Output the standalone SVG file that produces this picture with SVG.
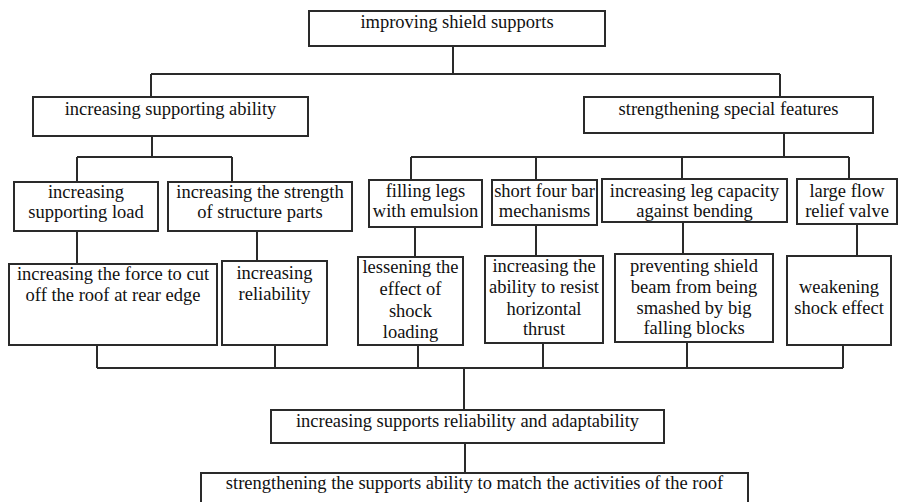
<svg xmlns="http://www.w3.org/2000/svg" width="901" height="502" viewBox="0 0 901 502">
  <style>
    .box { fill: #ffffff; stroke: #2a2a2a; stroke-width: 2; }
    .lbl { font-family: "Liberation Serif", "Times New Roman", serif; font-size: 18.5px; fill: #111111; text-anchor: middle; }
    .wire { fill: none; stroke: #2a2a2a; stroke-width: 2; }
  </style>
  <rect width="901" height="502" fill="#ffffff"/>

  <!-- connectors -->
  <g id="connectors" class="wire">
    <path d="M453,46 V74 M151,74 H780 M151,74 V97 M780,74 V97"/>
    <path d="M152,136 V157 M77,157 H232 M77,157 V182 M232,157 V182"/>
    <path d="M784,133 V157 M411,157 H849 M411,157 V180 M536,157 V180 M682,157 V179 M849,157 V179"/>
    <path d="M77,231 V264 M257,231 V261 M415,227 V257 M536,225 V256 M683,222 V254 M857,224 V256"/>
    <path d="M97,345 V368 M275,345 V368 M418,345 V368 M543,343 V368 M687,342 V368 M843,345 V368 M97,368 H843"/>
    <path d="M464,368 V410 M465,443 V473"/>
  </g>

  <!-- level 1 -->
  <g id="n-improving">
    <rect class="box" x="309" y="11" width="296" height="35"/>
    <text class="lbl" x="457" y="28">improving shield supports</text>
  </g>

  <!-- level 2 -->
  <g id="n-supporting-ability">
    <rect class="box" x="33" y="97" width="275" height="39"/>
    <text class="lbl" x="170.5" y="115">increasing supporting ability</text>
  </g>
  <g id="n-special-features">
    <rect class="box" x="584" y="97" width="289" height="36"/>
    <text class="lbl" x="728.5" y="115">strengthening special features</text>
  </g>

  <!-- level 3 -->
  <g id="n-supporting-load">
    <rect class="box" x="14" y="182" width="144" height="49"/>
    <text class="lbl" x="86" y="198">increasing</text>
    <text class="lbl" x="86" y="218">supporting load</text>
  </g>
  <g id="n-structure-strength">
    <rect class="box" x="168" y="182" width="184" height="49"/>
    <text class="lbl" x="260" y="198">increasing the strength</text>
    <text class="lbl" x="260" y="218">of structure parts</text>
  </g>
  <g id="n-emulsion">
    <rect class="box" x="369" y="180" width="113" height="47"/>
    <text class="lbl" x="425.5" y="197">filling legs</text>
    <text class="lbl" x="425.5" y="217">with emulsion</text>
  </g>
  <g id="n-four-bar">
    <rect class="box" x="492" y="180" width="105" height="45"/>
    <text class="lbl" x="544.5" y="197">short four bar</text>
    <text class="lbl" x="544.5" y="217">mechanisms</text>
  </g>
  <g id="n-leg-capacity">
    <rect class="box" x="602" y="179" width="185" height="43"/>
    <text class="lbl" x="694.5" y="197">increasing leg capacity</text>
    <text class="lbl" x="694.5" y="217">against bending</text>
  </g>
  <g id="n-relief-valve">
    <rect class="box" x="797" y="179" width="100" height="45"/>
    <text class="lbl" x="847" y="197">large flow</text>
    <text class="lbl" x="847" y="217">relief valve</text>
  </g>

  <!-- level 4 -->
  <g id="n-cut-roof">
    <rect class="box" x="9" y="264" width="208" height="81"/>
    <text class="lbl" x="113" y="280">increasing the force to cut</text>
    <text class="lbl" x="113" y="301">off the roof at rear edge</text>
  </g>
  <g id="n-reliability">
    <rect class="box" x="222" y="261" width="105" height="84"/>
    <text class="lbl" x="274.5" y="279">increasing</text>
    <text class="lbl" x="274.5" y="300">reliability</text>
  </g>
  <g id="n-shock-loading">
    <rect class="box" x="358" y="257" width="105" height="88"/>
    <text class="lbl" x="410.5" y="273">lessening the</text>
    <text class="lbl" x="410.5" y="295">effect of</text>
    <text class="lbl" x="410.5" y="317">shock</text>
    <text class="lbl" x="410.5" y="338">loading</text>
  </g>
  <g id="n-horizontal-thrust">
    <rect class="box" x="485" y="256" width="118" height="87"/>
    <text class="lbl" x="544" y="272">increasing the</text>
    <text class="lbl" x="544" y="293">ability to resist</text>
    <text class="lbl" x="544" y="315">horizontal</text>
    <text class="lbl" x="544" y="335">thrust</text>
  </g>
  <g id="n-falling-blocks">
    <rect class="box" x="615" y="254" width="158" height="88"/>
    <text class="lbl" x="694" y="272">preventing shield</text>
    <text class="lbl" x="694" y="293">beam from being</text>
    <text class="lbl" x="694" y="314">smashed by big</text>
    <text class="lbl" x="694" y="334">falling blocks</text>
  </g>
  <g id="n-shock-effect">
    <rect class="box" x="787" y="256" width="104" height="89"/>
    <text class="lbl" x="839" y="293">weakening</text>
    <text class="lbl" x="839" y="314">shock effect</text>
  </g>

  <!-- results -->
  <g id="n-adaptability">
    <rect class="box" x="271" y="410" width="393" height="33"/>
    <text class="lbl" x="467.5" y="427">increasing supports reliability and adaptability</text>
  </g>
  <g id="n-roof-activities">
    <rect class="box" x="201" y="473" width="547" height="40"/>
    <text class="lbl" x="474.5" y="489">strengthening the supports ability to match the activities of the roof</text>
  </g>
</svg>
